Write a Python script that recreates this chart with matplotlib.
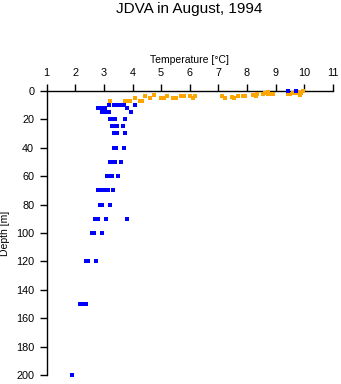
import matplotlib
matplotlib.use("Agg")
import matplotlib.pyplot as plt

# ---- data ----
blue_depths = [0, 10, 12, 15, 20, 25, 30, 40, 50, 60, 70, 80, 90, 100, 120, 150, 200]
blue_temps = [
    [9.45, 9.7],
    [3.17, 3.34, 3.45, 3.55, 3.63, 3.71, 4.1],
    [2.81, 2.9, 2.98, 3.05, 3.82],
    [2.92, 3.01, 3.1, 3.19, 3.93],
    [3.2, 3.3, 3.4, 3.75],
    [3.3, 3.4, 3.47, 3.65],
    [3.35, 3.45, 3.72],
    [3.36, 3.43, 3.69],
    [3.22, 3.3, 3.38, 3.58],
    [3.1, 3.19, 3.28, 3.48],
    [2.81, 2.95, 3.05, 3.14, 3.33],
    [2.85, 2.95, 3.21],
    [2.7, 2.78, 3.09, 3.79],
    [2.6, 2.67, 2.93],
    [2.39, 2.46, 2.71],
    [2.15, 2.22, 2.38],
    [1.87],
]

orange_temp = [3.2, 3.75, 3.85, 3.92, 4.1, 4.25, 4.32, 4.45, 4.6, 4.75,
               4.98, 5.1, 5.2, 5.42, 5.52, 5.68, 5.8, 6.0, 6.1, 6.17,
               7.13, 7.22, 7.48, 7.56, 7.7, 7.85, 7.95, 8.2, 8.32, 8.37,
               8.55, 8.62, 8.75, 8.72, 8.8, 8.9, 9.42, 9.5, 9.6, 9.7,
               9.8, 9.86, 9.9, 9.96, 9.85]
orange_depth = [7.3, 7.3, 7.3, 7.3, 4.8, 7.0, 7.3, 3.9, 4.8, 2.8,
                5.0, 5.0, 3.9, 5.0, 5.0, 4.0, 4.0, 4.0, 5.0, 4.0,
                4.0, 4.8, 4.2, 5.0, 3.5, 3.5, 3.5, 3.2, 3.6, 2.6,
                2.6, 1.5, 0.8, 2.2, 2.6, 2.0, 2.2, 2.2, 1.5, 1.5,
                1.0, 2.6, 1.5, 0.5, 3.2]

x_ticks = [1, 2, 3, 4, 5, 6, 7, 8, 9, 10, 11]
y_ticks = [0, 20, 40, 60, 80, 100, 120, 140, 160, 180, 200]

plt.rcParams['font.family'] = ['Liberation Sans', 'DejaVu Sans']

fig = plt.figure(figsize=(3.41, 3.84), dpi=100)
ax = fig.add_axes([0.137, 0.0227, 0.8387, 0.7411])

bt = [t for row in blue_temps for t in row]
bd = [d for d, row in zip(blue_depths, blue_temps) for _ in row]

ax.plot(orange_temp, orange_depth, linestyle='none', marker='s', markersize=2.2,
        markeredgewidth=0, color='#FFA500', clip_on=False, zorder=3,
        antialiased=False)
ax.plot(bt, bd, linestyle='none', marker='s', markersize=2.2,
        markeredgewidth=0, color='#0000FF', clip_on=False, zorder=4,
        antialiased=False)

ax.set_xlim(1, 11)
ax.set_ylim(200, 0)
ax.set_xticks(x_ticks)
ax.set_yticks(y_ticks)

ax.xaxis.tick_top()
ax.xaxis.set_label_position('top')
for s in ['bottom', 'right']:
    ax.spines[s].set_visible(False)
for s in ['top', 'left']:
    ax.spines[s].set_linewidth(1.0)
    ax.spines[s].set_color('black')

ax.tick_params(axis='both', direction='out', length=5, width=1.0,
               labelsize=7.8, colors='black')
ax.tick_params(axis='x', pad=4)
ax.tick_params(axis='y', pad=4)

ax.set_xlabel('Temperature [°C]', fontsize=7.5, labelpad=4)
ax.set_ylabel('Depth [m]', fontsize=7.5, labelpad=4)

fig.text(0.554, 1 - 9.5 / 384, 'JDVA in August, 1994', fontsize=11,
         ha='center', va='center')

fig.savefig('out.png', dpi=100)
